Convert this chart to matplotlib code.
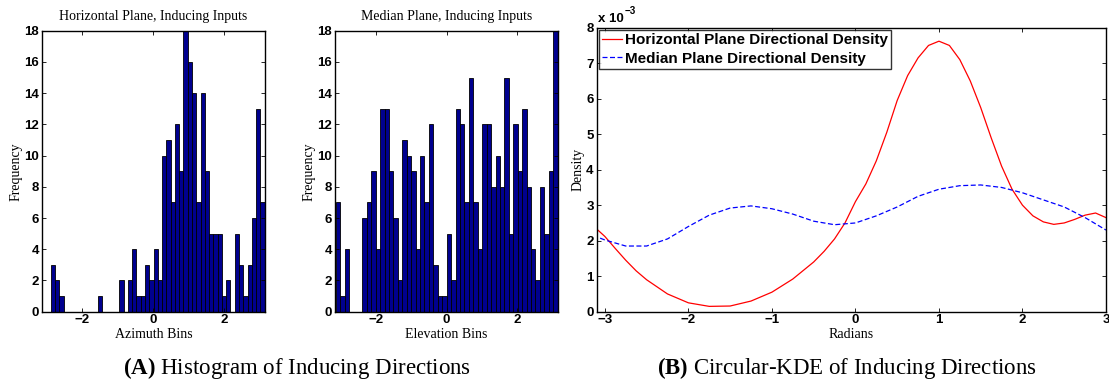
import numpy as np
import matplotlib
matplotlib.use('Agg')
import matplotlib.pyplot as plt
from matplotlib.font_manager import FontProperties

plt.rcParams['mathtext.fontset'] = 'custom'
plt.rcParams['mathtext.rm'] = 'Liberation Serif'
plt.rcParams['mathtext.bf'] = 'Liberation Serif:bold'

# histogram counts, 50 bins each
az_counts = [3, 2, 1, 0, 0, 0, 0, 0, 0, 0,
             0, 1, 0, 0, 0, 0, 2, 0, 2, 4,
             1, 1, 3, 2, 4, 2, 10, 11, 7, 12,
             9, 18, 16, 14, 7, 14, 9, 5, 5, 5,
             1, 2, 0, 5, 3, 1, 3, 6, 13, 7]
az_range = (-2.89, 3.14)

el_counts = [7, 1, 4, 0, 0, 0, 6, 7, 9, 4,
             13, 13, 9, 6, 2, 11, 10, 9, 4, 10,
             7, 12, 3, 1, 1, 5, 2, 13, 12, 7,
             15, 7, 4, 12, 12, 8, 10, 8, 15, 5,
             12, 9, 13, 8, 4, 2, 8, 5, 9, 18]
el_range = (-3.13, 3.14)

# circular KDE (density in units of 1e-3)
kde_x_h = [-3.14, -3.0, -2.875, -2.75, -2.625, -2.5, -2.25, -2.0, -1.75, -1.5,
           -1.25, -1.0, -0.75, -0.5, -0.375, -0.25, -0.125, 0.0, 0.125, 0.25,
           0.375, 0.5, 0.625, 0.75, 0.875, 1.0, 1.125, 1.25, 1.375, 1.5,
           1.625, 1.75, 1.875, 2.0, 2.125, 2.25, 2.375, 2.5, 2.625, 2.75,
           2.875, 3.0]
kde_h = [2.42, 2.12, 1.78, 1.45, 1.15, 0.9, 0.5, 0.25, 0.15, 0.16,
         0.3, 0.55, 0.92, 1.4, 1.7, 2.05, 2.5, 3.1, 3.6, 4.25,
         5.05, 5.95, 6.65, 7.15, 7.5, 7.62, 7.5, 7.1, 6.5, 5.75,
         4.9, 4.1, 3.45, 3.0, 2.7, 2.53, 2.46, 2.5, 2.6, 2.72,
         2.78, 2.65]
kde_x_m = [-3.14, -3.0, -2.75, -2.5, -2.25, -2.0, -1.75, -1.5, -1.25, -1.0,
           -0.75, -0.5, -0.25, 0.0, 0.25, 0.5, 0.75, 1.0, 1.25, 1.5,
           1.75, 2.0, 2.25, 2.5, 2.75, 3.0]
kde_m = [2.15, 2.02, 1.85, 1.85, 2.05, 2.4, 2.72, 2.92, 2.98, 2.9,
         2.75, 2.55, 2.45, 2.5, 2.7, 2.95, 3.25, 3.45, 3.55, 3.57,
         3.5, 3.35, 3.15, 2.95, 2.65, 2.3]

tick_font = dict(family='Liberation Sans', weight='bold', size=9.5)
serif = 'Liberation Serif'
bar_color = (0, 0, 0.56)

W, H = 1109, 383
fig = plt.figure(figsize=(W / 100, H / 100), dpi=100)


def frac(l, r, t, b):
    return [l / W, 1 - b / H, (r - l) / W, (b - t) / H]


def style(ax):
    ax.tick_params(direction='in', top=True, right=True, length=3, width=0.6, pad=2)
    for lab in ax.get_xticklabels() + ax.get_yticklabels():
        lab.set_fontproperties(FontProperties(**tick_font))
    for s in ax.spines.values():
        s.set_linewidth(1.0)


def hist(ax, counts, rng, title, xlabel):
    n = len(counts)
    w = (rng[1] - rng[0]) / n
    left = rng[0] + w * np.arange(n)
    ax.bar(left, counts, width=w, align='edge', color=bar_color,
           edgecolor='black', linewidth=0.6)
    ax.set_xlim(-3.15, 3.15)
    ax.set_ylim(0, 18)
    ax.set_xticks([-2, 0, 2])
    ax.set_yticks(range(0, 19, 2))
    ax.set_xticklabels(['\u22122', '0', '2'])
    ax.set_title(title, family=serif, fontsize=10, pad=8)
    ax.set_xlabel(xlabel, family=serif, fontsize=10, labelpad=1)
    ax.set_ylabel('Frequency', family=serif, fontsize=10, labelpad=1)
    style(ax)


ax1 = fig.add_axes(frac(41.7, 265, 30.7, 311.7))
hist(ax1, az_counts, az_range, 'Horizontal Plane, Inducing Inputs', 'Azimuth Bins')

ax2 = fig.add_axes(frac(335, 558, 30.7, 311.7))
hist(ax2, el_counts, el_range, 'Median Plane, Inducing Inputs', 'Elevation Bins')

ax3 = fig.add_axes(frac(596.5, 1106, 27.7, 311.7))
ax3.plot(kde_x_h, kde_h, color='red', linewidth=0.9,
         label='Horizontal Plane Directional Density')
ax3.plot(kde_x_m, kde_m, color='blue', linewidth=0.9, linestyle=(0, (4, 2)),
         label='Median Plane Directional Density')
ax3.set_xlim(-3.1, 3.0)
ax3.set_ylim(0, 8)
ax3.set_xticks([-3, -2, -1, 0, 1, 2, 3])
ax3.set_xticklabels(['\u22123', '\u22122', '\u22121', '0', '1', '2', '3'])
ax3.set_yticks(range(0, 9))
ax3.set_xlabel('Radians', family=serif, fontsize=10, labelpad=1)
ax3.set_ylabel('Density', family=serif, fontsize=10, labelpad=1)
style(ax3)
ax3.text(0.002, 1.01, 'x 10', transform=ax3.transAxes,
         ha='left', va='bottom', **tick_font)
ax3.text(0.056, 1.04, '\u22123', transform=ax3.transAxes,
         ha='left', va='bottom', family='Liberation Sans', weight='bold', size=7)
leg = ax3.legend(loc='upper left', handlelength=1.3, handletextpad=0.2,
                 borderpad=0.2, borderaxespad=0.15, labelspacing=0.3,
                 fancybox=False, edgecolor='black',
                 prop=dict(family='Liberation Sans', weight='bold', size=11))
leg.get_frame().set_linewidth(1.0)

# captions
fig.text(297 / W, 1 - 368 / H, r'$\mathbf{(A)}$ Histogram of Inducing Directions',
         ha='center', va='center', family=serif, fontsize=16.5)
fig.text(847 / W, 1 - 368 / H, r'$\mathbf{(B)}$ Circular-KDE of Inducing Directions',
         ha='center', va='center', family=serif, fontsize=16.5)

fig.savefig('out.png', dpi=100)
